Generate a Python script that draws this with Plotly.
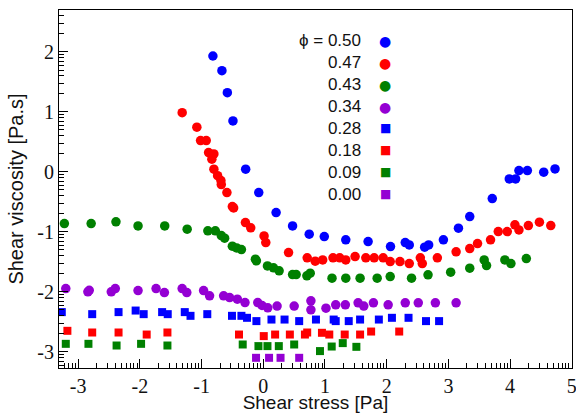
import numpy as np
import plotly.graph_objects as go

# ---- data: log10(shear stress [Pa]) and log10(shear viscosity [Pa.s]) ----
phi_labels = ["0.50", "0.47", "0.43", "0.34", "0.28", "0.18", "0.09", "0.00"]
colors = ["#0000FF", "#FF0000", "#008000", "#9400D3",
          "#0000FF", "#FF0000", "#008000", "#9400D3"]
symbols = ["circle"] * 4 + ["square"] * 4

x050 = [-0.816, -0.670, -0.582, -0.491, -0.285, -0.073, 0.208, 0.475, 0.745, 0.989,
        1.337, 1.699, 2.062, 2.301, 2.366, 2.615, 2.680, 2.919, 3.163, 3.346,
        3.711, 3.987, 4.089, 4.143, 4.280, 4.545, 4.728]
y050 = [1.933, 1.688, 1.322, 0.850, 0.045, -0.345, -0.678, -0.900, -1.038, -1.078,
        -1.133, -1.162, -1.245, -1.178, -1.217, -1.255, -1.217, -1.133, -0.938, -0.745,
        -0.445, -0.117, -0.117, 0.022, 0.022, -0.005, 0.050]

x047 = [-1.314, -1.076, -1.016, -0.924, -0.886, -0.800, -0.833, -0.800, -0.740, -0.686,
        -0.680, -0.589, -0.501, -0.480, -0.289, -0.203, 0.013, 0.041, 0.410, 0.712,
        0.842, 0.963, 1.130, 1.239, 1.337, 1.488, 1.662, 1.797, 1.943, 2.057,
        2.215, 2.366, 2.545, 2.577, 2.821, 3.125, 3.346, 3.472, 3.683, 3.808,
        3.954, 4.078, 4.143, 4.296, 4.475, 4.659]
y047 = [0.988, 0.745, 0.522, 0.522, 0.322, 0.300, 0.212, 0.045, -0.062, -0.145,
        -0.212, -0.345, -0.578, -0.600, -0.845, -0.933, -1.067, -1.178, -1.345, -1.433,
        -1.488, -1.467, -1.433, -1.433, -1.467, -1.412, -1.433, -1.433, -1.433, -1.495,
        -1.495, -1.528, -1.433, -1.528, -1.433, -1.333, -1.278, -1.195, -1.133, -0.995,
        -0.995, -0.883, -0.967, -0.895, -0.838, -0.895]

x043 = [-3.223, -2.789, -2.387, -2.029, -1.597, -1.233, -0.898, -0.777, -0.680, -0.626,
        -0.501, -0.431, -0.354, -0.127, -0.111, 0.068, 0.166, 0.257, 0.475, 0.533,
        0.707, 0.761, 1.114, 1.337, 1.569, 1.846, 2.057, 2.403, 2.670, 3.037,
        3.346, 3.580, 3.618, 3.915, 4.013, 4.263]
y043 = [-0.862, -0.862, -0.833, -0.900, -0.900, -0.955, -0.983, -0.983, -1.062, -1.105,
        -1.238, -1.267, -1.295, -1.455, -1.483, -1.567, -1.600, -1.650, -1.712, -1.712,
        -1.733, -1.688, -1.772, -1.772, -1.772, -1.772, -1.745, -1.772, -1.717, -1.672,
        -1.605, -1.467, -1.562, -1.467, -1.528, -1.445]

x034 = [-3.200, -2.842, -2.820, -2.463, -2.398, -2.029, -1.737, -1.602, -1.314, -1.239,
        -0.967, -0.870, -0.642, -0.545, -0.420, -0.296, -0.089, -0.020, 0.073, 0.224,
        0.501, 0.772, 0.772, 1.016, 1.174, 1.330, 1.537, 1.629, 1.785, 2.024,
        2.301, 2.512, 2.789, 3.125]
y034 = [-1.945, -2.000, -1.975, -2.000, -1.945, -1.978, -1.945, -2.012, -1.945, -2.012,
        -1.978, -2.067, -2.067, -2.095, -2.122, -2.178, -2.178, -2.228, -2.267, -2.238,
        -2.238, -2.150, -2.300, -2.272, -2.217, -2.217, -2.183, -2.238, -2.183, -2.217,
        -2.183, -2.183, -2.183, -2.183]

x028 = [-3.265, -2.772, -2.345, -2.068, -1.938, -1.639, -1.548, -1.272, -1.179, -0.907,
        -0.507, -0.354, -0.263, -0.111, 0.133, 0.345, 0.582, 0.854, 1.141, 1.174,
        1.385, 1.569, 1.873, 2.085, 2.354, 2.637, 2.849]
y028 = [-2.338, -2.372, -2.338, -2.312, -2.372, -2.338, -2.372, -2.338, -2.400, -2.372,
        -2.400, -2.400, -2.433, -2.488, -2.462, -2.462, -2.488, -2.462, -2.462, -2.488,
        -2.488, -2.462, -2.462, -2.433, -2.433, -2.488, -2.488]

x018 = [-3.174, -2.772, -2.345, -1.889, -1.553, -0.393, 0.008, 0.192, 0.431, 0.675,
        0.712, 0.951, 1.070, 1.320, 1.569, 1.748, 2.203]
y018 = [-2.650, -2.678, -2.678, -2.712, -2.678, -2.712, -2.738, -2.712, -2.712, -2.712,
        -2.678, -2.683, -2.712, -2.712, -2.712, -2.662, -2.662]

x009 = [-3.200, -2.833, -2.377, -1.980, -1.553, -0.333, -0.078, 0.068, 0.252, 0.501,
        0.919, 1.109, 1.288, 1.509]
y009 = [-2.867, -2.867, -2.895, -2.867, -2.895, -2.878, -2.905, -2.905, -2.905, -2.878,
        -2.988, -2.912, -2.855, -2.917]

x000 = [-0.117, 0.094, 0.280, 0.582]
y000 = [-3.100, -3.100, -3.100, -3.100]

x_decades = [-3, -2, -1, 0, 1, 2, 3, 4, 5]
y_decades = [-3, -2, -1, 0, 1, 2]

series = [(x050, y050), (x047, y047), (x043, y043), (x034, y034),
          (x028, y028), (x018, y018), (x009, y009), (x000, y000)]

fig = go.Figure()
for lab, (xs, ys), col, sym in zip(phi_labels, series, colors, symbols):
    fig.add_trace(go.Scatter(
        x=10 ** np.array(xs), y=10 ** np.array(ys), mode="markers",
        name="ϕ = " + lab, showlegend=False,
        marker=dict(symbol=sym, size=9.5 if sym == "circle" else 8,
                    color=col, line=dict(width=0)),
    ))


def minor_vals(decades):
    lo, hi = min(decades) - 1, max(decades)
    return [m * 10.0 ** k for k in range(lo, hi + 1) for m in range(2, 10)]


axis_common = dict(
    type="log", showgrid=False, zeroline=False,
    showline=True, linecolor="black", linewidth=1, mirror=True,
    ticks="inside", ticklen=9, tickwidth=1.3, tickcolor="black",
    tickfont=dict(family="Liberation Serif", size=20, color="#111"),
    ticklabeloverflow="allow",
)

fig.update_xaxes(
    **axis_common,
    range=[-3.31, 5.003],
    tickmode="array",
    tickvals=[10.0 ** k for k in x_decades],
    ticktext=[str(k) for k in x_decades],
    minor=dict(ticks="inside", ticklen=5, tickwidth=1.1, tickcolor="black",
               tickmode="array", tickvals=minor_vals(x_decades), showgrid=False),
    ticklabelstandoff=0,
    title=dict(text="Shear stress [Pa]", standoff=6,
               font=dict(family="Liberation Sans", size=19, color="#111")),
)
fig.update_yaxes(
    **axis_common,
    range=[-3.27, 2.70],
    tickmode="array",
    tickvals=[10.0 ** k for k in y_decades],
    ticktext=[str(k) for k in y_decades],
    minor=dict(ticks="inside", ticklen=5, tickwidth=1.1, tickcolor="black",
               tickmode="array", tickvals=minor_vals(y_decades + [3]), showgrid=False),
    title=dict(text="Shear viscosity [Pa.s]", standoff=8,
               font=dict(family="Liberation Sans", size=20, color="#111")),
)

# legend drawn as text: label on the left, marker glyph on the right
annotations = []
for i, (lab, col, sym) in enumerate(zip(phi_labels, colors, symbols)):
    yy = 0.914 - i * 0.0612
    annotations.append(dict(
        x=0.5926, y=yy, xref="paper", yref="paper", xanchor="right", yanchor="middle",
        text=("ϕ = " if i == 0 else "") + lab, showarrow=False,
        font=dict(family="Liberation Sans", size=17, color="#111"),
    ))
    annotations.append(dict(
        x=0.6355, y=yy, xref="paper", yref="paper", xanchor="center", yanchor="middle",
        text="●" if sym == "circle" else "■", showarrow=False,
        font=dict(family="DejaVu Sans", size=14 if sym == "circle" else 12, color=col),
    ))

fig.update_layout(
    width=576, height=413,
    margin=dict(l=59, r=4, t=10, b=45, autoexpand=False),
    paper_bgcolor="white", plot_bgcolor="white",
    annotations=annotations,
)

fig.write_html(
    "out.html",
    config={"displayModeBar": False},
    post_script="document.body.style.margin='0';document.body.style.overflow='hidden';",
)
